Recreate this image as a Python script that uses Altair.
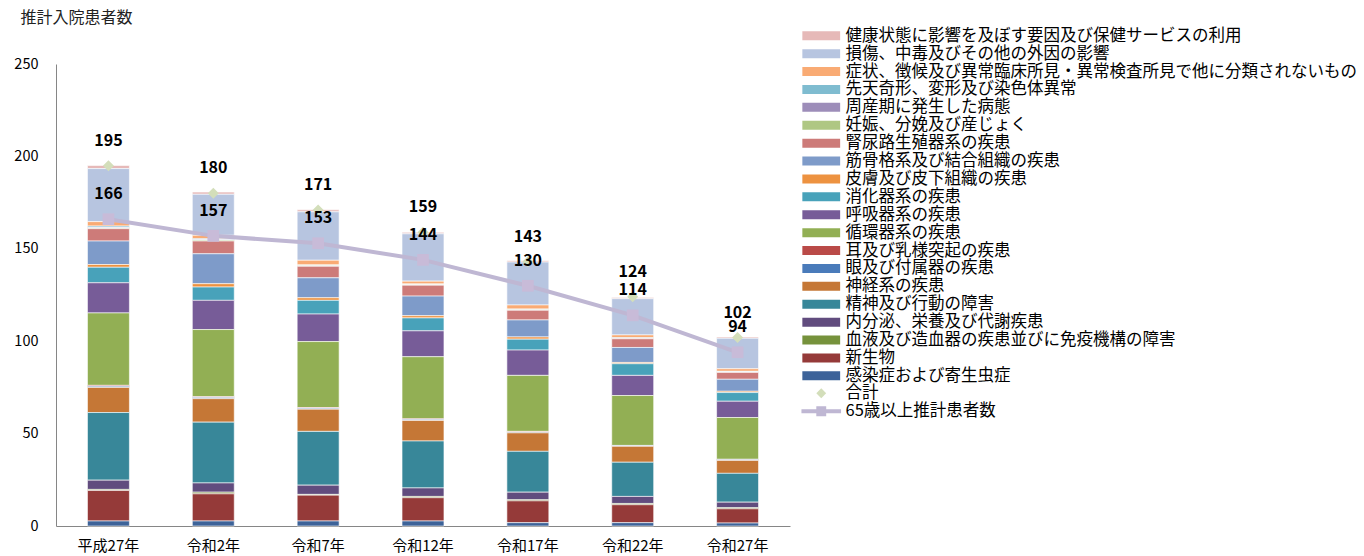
import altair as alt
import pandas as pd

FONT = "Noto Sans CJK JP"

years = ["平成27年", "令和2年", "令和7年", "令和12年", "令和17年", "令和22年", "令和27年"]

# legend order (top of stack first)
categories = [
    "健康状態に影響を及ぼす要因及び保健サービスの利用",
    "損傷、中毒及びその他の外因の影響",
    "症状、徴候及び異常臨床所見・異常検査所見で他に分類されないもの",
    "先天奇形、変形及び染色体異常",
    "周産期に発生した病態",
    "妊娠、分娩及び産じょく",
    "腎尿路生殖器系の疾患",
    "筋骨格系及び結合組織の疾患",
    "皮膚及び皮下組織の疾患",
    "消化器系の疾患",
    "呼吸器系の疾患",
    "循環器系の疾患",
    "耳及び乳様突起の疾患",
    "眼及び付属器の疾患",
    "神経系の疾患",
    "精神及び行動の障害",
    "内分泌、栄養及び代謝疾患",
    "血液及び造血器の疾患並びに免疫機構の障害",
    "新生物",
    "感染症および寄生虫症",
]
colors = [
    "#E6B9B8", "#B7C5E0", "#F9AB74", "#7FBCD0", "#9D8DB9", "#AFC783", "#CD7B79",
    "#7E9BC9", "#ED9240", "#48A2BA", "#775C98", "#92AF54", "#BA4A48", "#4A7BBA",
    "#C57736", "#388799", "#614C7E", "#76923C", "#953A39", "#3D6399",
]

health      = [1.7, 1.2, 1.1, 0.8, 0.7, 0.7, 0.7]
injury      = [28.7, 22.2, 26.2, 25.6, 23.2, 19.6, 16.5]
symptoms    = [2.4, 1.9, 2.5, 1.5, 2.2, 1.6, 1.4]
congenital  = [0.7, 0.5, 0.3, 0.3, 0.3, 0.2, 0.3]
perinatal   = [0.3, 0.2, 0.2, 0.1, 0.1, 0.1, 0.1]
pregnancy   = [0.4, 0.5, 0.3, 0.3, 0.3, 0.2, 0.2]
genito      = [6.7, 6.9, 6.2, 5.9, 5.2, 4.7, 3.7]
musculo     = [12.7, 16.2, 10.8, 10.6, 9.2, 8.1, 6.5]
skin        = [1.5, 1.8, 1.4, 1.2, 1.2, 0.7, 0.7]
digestive   = [8.4, 7.2, 7.4, 7.0, 5.9, 6.3, 4.7]
respiratory = [16.3, 15.8, 14.9, 14.0, 13.7, 10.9, 8.8]
circulatory = [39.2, 36.3, 35.7, 33.6, 30.3, 27.0, 22.6]
ear         = [0.5, 0.5, 0.4, 0.4, 0.4, 0.2, 0.3]
eye         = [0.6, 0.6, 0.5, 0.5, 0.4, 0.3, 0.3]
nervous     = [13.6, 12.7, 12.0, 11.1, 10.0, 8.6, 7.0]
mental      = [36.6, 32.9, 29.1, 25.4, 22.1, 18.5, 15.6]
endocrine   = [5.0, 5.0, 5.0, 4.6, 4.1, 3.8, 3.0]
blood       = [0.6, 0.9, 0.4, 0.7, 0.6, 0.7, 0.6]
neoplasm    = [16.5, 14.7, 14.0, 12.6, 11.8, 9.7, 7.7]
infection   = [2.7, 2.7, 2.7, 2.7, 1.8, 1.8, 1.6]

series_values = [health, injury, symptoms, congenital, perinatal, pregnancy, genito,
                 musculo, skin, digestive, respiratory, circulatory, ear, eye, nervous,
                 mental, endocrine, blood, neoplasm, infection]

total = [195, 180, 171, 159, 143, 124, 102]
over65 = [166, 157, 153, 144, 130, 114, 94]

series_names = ["合計", "65歳以上推計患者数"]
series_colors = ["#D3DEBA", "#BFB7D3"]

rows = []
for ci, (cat, vals) in enumerate(zip(categories, series_values)):
    for yr, v in zip(years, vals):
        rows.append({"year": yr, "category": cat, "value": v,
                     "stack": len(categories) - ci})
bars_df = pd.DataFrame(rows)
line_df = pd.DataFrame({"year": years, "total": total, "over65": over65})
legend_df = pd.DataFrame({"series": series_names})

X = alt.X("year:N", sort=years,
          scale=alt.Scale(paddingInner=0.6, paddingOuter=0.3),
          axis=alt.Axis(title=None, labelAngle=0, ticks=False, labelPadding=12,
                        labelFontSize=15, domainColor="#868686", labelColor="#000000"))

# legend symbol paths (scaled by sqrt(size)/2 = 4.5 px per unit)
bar_sym = "M-4.2,-1H4.2V1H-4.2Z"
diamond_sym = "M0,-1.1L1.1,0L0,1.1L-1.1,0Z"
linesq_sym = "M-4.4,-0.45H4.4V0.45H-4.4Z M-1.1,-1.1H1.1V1.1H-1.1Z"
LEG_SIZE = 81
LEG_X = 757

bars = alt.Chart(bars_df).mark_bar(stroke="#FFFFFF", strokeWidth=0.6).encode(
    x=X,
    y=alt.Y("value:Q", stack="zero",
            scale=alt.Scale(domain=[0, 250], nice=False),
            axis=alt.Axis(values=[0, 50, 100, 150, 200, 250], ticks=False, grid=False,
                          labelPadding=18, labelFontSize=14.5, labelColor="#000000",
                          domainColor="#868686",
                          title="推計入院患者数", titleAngle=0, titleAlign="left",
                          titleBaseline="middle", titleX=-36, titleY=-47,
                          titleFontSize=16, titleFontWeight="normal",
                          titleColor="#222222")),
    color=alt.Color("category:N", scale=alt.Scale(domain=categories, range=colors),
                    legend=alt.Legend(title=None, orient="none", legendX=LEG_X,
                                      legendY=-36.5,
                                      symbolType=bar_sym, symbolSize=LEG_SIZE,
                                      symbolStrokeWidth=0, labelOffset=16,
                                      rowPadding=0.9, padding=0)),
    order=alt.Order("stack:Q", sort="ascending"),
)

line = alt.Chart(line_df).mark_line(color="#BFB7D3", strokeWidth=4).encode(
    x=X, y=alt.Y("over65:Q"))
squares = alt.Chart(line_df).mark_point(shape="square", filled=True, size=137,
                                        color="#C8BBD8", opacity=1).encode(
    x=X, y=alt.Y("over65:Q"))
diamonds = alt.Chart(line_df).mark_point(shape="M0,-1L1,0L0,1L-1,0Z", filled=True,
                                         size=121, color="#D3DEBA", opacity=1).encode(
    x=X, y=alt.Y("total:Q"))
total_labels = alt.Chart(line_df).mark_text(dy=-25, fontWeight="bold", fontSize=16,
                                            font=FONT, color="#000000").encode(
    x=X, y=alt.Y("total:Q"), text="total:Q")
over_labels = alt.Chart(line_df).mark_text(dy=-25, fontWeight="bold", fontSize=16,
                                           font=FONT, color="#000000").encode(
    x=X, y=alt.Y("over65:Q"), text="over65:Q")

leg2 = dict(title=None, orient="none", legendX=LEG_X, legendY=321,
            symbolSize=LEG_SIZE, symbolStrokeWidth=0, labelOffset=16, rowPadding=1,
            padding=0)
legend_layer = alt.Chart(legend_df).transform_filter("false").mark_point(
    filled=True, size=LEG_SIZE, opacity=1).encode(
    color=alt.Color("series:N", scale=alt.Scale(domain=series_names, range=series_colors),
                    legend=alt.Legend(**leg2)),
    shape=alt.Shape("series:N", scale=alt.Scale(domain=series_names,
                                                range=[diamond_sym, linesq_sym]),
                    legend=alt.Legend(**leg2)),
)

chart = alt.layer(bars, line, squares, diamonds, total_labels, over_labels, legend_layer
).resolve_scale(color="independent", shape="independent").properties(
    width=734, height=462,
    padding={"left": 56, "top": 64, "right": 574, "bottom": 30},
    autosize=alt.AutoSizeParams(type="none"),
).configure(font=FONT).configure_view(stroke=None).configure_legend(
    labelFont=FONT, labelFontSize=16.5, labelColor="#000000", labelLimit=700,
).configure_axis(labelFont=FONT, titleFont=FONT)

chart.save("out.html", embed_options={"renderer": "svg", "actions": False})
